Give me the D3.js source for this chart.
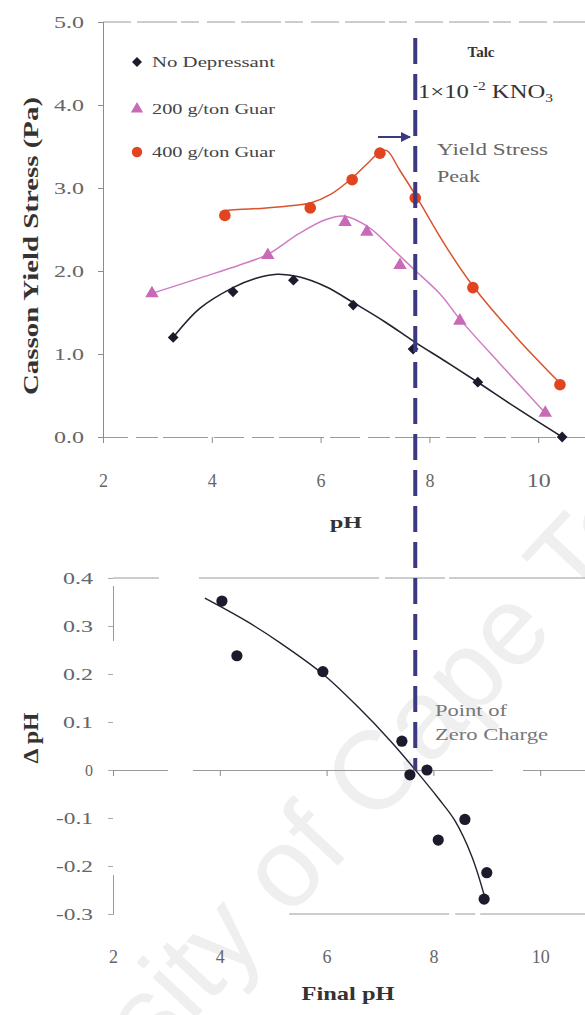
<!DOCTYPE html>
<html>
<head>
<meta charset="utf-8">
<script src="https://cdn.jsdelivr.net/npm/d3@7"></script>
<style>
  html, body { margin: 0; padding: 0; background: #fff; }
  svg { display: block; }
  text { font-family: "Liberation Serif", "Times New Roman", serif; }
</style>
</head>
<body>
<svg id="chart" width="585" height="1015"></svg>
<script>
// ---- Yield stress vs pH (talc, 1e-2 M KNO3) ----
const pHNoDep = [3.29, 4.39, 5.50, 6.60, 7.70, 8.89, 10.44];
const ysNoDep = [1.20, 1.75, 1.89, 1.59, 1.06, 0.66, 0.00];
const pH200 = [2.90, 5.03, 6.45, 6.85, 7.46, 8.56, 10.13];
const ys200 = [1.73, 2.19, 2.59, 2.47, 2.07, 1.40, 0.29];
const pH400 = [4.24, 5.81, 6.58, 7.09, 7.74, 8.80, 10.40];
const ys400 = [2.67, 2.76, 3.10, 3.42, 2.88, 1.80, 0.63];

// smoothed trend lines through each series
const fitNoDepPH = [3.29, 3.78, 4.39, 4.80, 5.20, 5.60, 6.10, 6.60, 7.20, 7.74, 8.30, 8.89, 9.60, 10.44];
const fitNoDepYS = [1.20, 1.55, 1.80, 1.91, 1.96, 1.93, 1.81, 1.62, 1.38, 1.14, 0.91, 0.66, 0.35, 0.00];
const fit200PH = [2.90, 3.80, 4.50, 5.03, 5.60, 6.10, 6.45, 6.90, 7.30, 7.70, 8.20, 8.56, 9.30, 10.13];
const fit200YS = [1.73, 1.92, 2.07, 2.20, 2.45, 2.62, 2.66, 2.52, 2.28, 2.03, 1.72, 1.42, 0.88, 0.29];
const fit400PH = [4.24, 5.00, 5.50, 5.81, 6.20, 6.58, 6.90, 7.10, 7.22, 7.45, 7.74, 8.30, 8.80, 9.60, 10.40];
const fit400YS = [2.73, 2.76, 2.79, 2.82, 2.93, 3.12, 3.32, 3.44, 3.45, 3.22, 2.92, 2.30, 1.82, 1.20, 0.65];

const seriesNames = ["No Depressant", "200 g/ton Guar", "400 g/ton Guar"];
const topYTicks = [0, 1, 2, 3, 4, 5];
const xTicks = [2, 4, 6, 8, 10];

// ---- Delta pH vs final pH (point of zero charge) ----
const finalPH = [4.04, 4.32, 5.93, 7.41, 7.56, 7.88, 8.09, 8.59, 9.00, 8.95];
const deltaPH = [0.352, 0.238, 0.205, 0.060, -0.010, 0.000, -0.146, -0.103, -0.214, -0.269];
const fitFinalPH = [3.72, 4.50, 5.13, 5.93, 6.60, 7.20, 7.70, 8.10, 8.40, 8.72, 8.97];
const fitDeltaPH = [0.358, 0.310, 0.265, 0.200, 0.130, 0.060, -0.005, -0.060, -0.105, -0.180, -0.268];
const botYTicks = [-0.3, -0.2, -0.1, 0, 0.1, 0.2, 0.3, 0.4];
const botYLabels = ["-0.3", "-0.2", "-0.1", "0", "0.1", "0.2", "0.3", "0.4"];

const pzcPH = 7.74;

const svg = d3.select("#chart");
const navy = "#3b3a80";
const axisGray = "#8c8c8c";
const labelGray = "#666";
const serif = "'Liberation Serif', 'Times New Roman', serif";

// faint watermark behind everything
svg.append("text")
  .attr("transform", "translate(343,860) rotate(-47)")
  .attr("text-anchor", "middle")
  .style("font-family", "'Liberation Sans', Arial, sans-serif")
  .style("font-size", "112px")
  .attr("fill", "#efefef")
  .text("University of Cape Town");

// width-fitted labels (the figure's type is set wide)
function fitText(sel, widths) {
  sel.each(function (d, i) {
    const w = typeof widths === "function" ? widths(d, i, this) : widths;
    if (w) d3.select(this).attr("textLength", w).attr("lengthAdjust", "spacingAndGlyphs");
  });
}

// ---------- upper panel ----------
const xTop = d3.scaleLinear().domain([2, 11]).range([103, 103 + 9 * 54.4]);
const yTop = d3.scaleLinear().domain([0, 5]).range([437, 22]);

const upper = svg.append("g");

// frame line at the top of the plot
upper.append("line")
  .attr("x1", xTop(2)).attr("x2", 585)
  .attr("y1", yTop(5)).attr("y2", yTop(5))
  .attr("stroke", "#9a9a9a").attr("stroke-width", 1)
  .attr("stroke-dasharray", "28,6,40,4,18,8");

const yAxisTop = upper.append("g")
  .attr("transform", `translate(${xTop(2)},0)`)
  .call(d3.axisLeft(yTop).tickValues(topYTicks).tickFormat(d3.format(".1f")).tickSize(5).tickPadding(14));
yAxisTop.select(".domain").attr("stroke", axisGray);
yAxisTop.selectAll(".tick line").attr("stroke", axisGray);
yAxisTop.selectAll(".tick text")
  .attr("fill", labelGray)
  .style("font-family", serif).style("font-size", "17px")
  .call(fitText, 30);

const xAxisTop = upper.append("g")
  .attr("transform", `translate(0,${yTop(0)})`)
  .call(d3.axisBottom(xTop).tickValues(xTicks).tickSize(6).tickPadding(31));
xAxisTop.select(".domain").attr("stroke", "#9a9a9a").attr("stroke-dasharray", "30,8,22,5,45,6");
xAxisTop.selectAll(".tick line").attr("stroke", axisGray);
xAxisTop.selectAll(".tick text").attr("fill", labelGray)
  .style("font-family", serif).style("font-size", "18px")
  .call(fitText, d => (d >= 10 ? 24 : 0));

// axis titles
upper.append("text")
  .attr("transform", "translate(38,246) rotate(-90)")
  .attr("text-anchor", "middle")
  .attr("textLength", 298)
  .attr("lengthAdjust", "spacingAndGlyphs")
  .style("font-size", "21px").style("font-weight", "bold")
  .attr("fill", "#333")
  .text("Casson Yield Stress (Pa)");

upper.append("text")
  .attr("x", 346).attr("y", 528)
  .attr("text-anchor", "middle")
  .attr("textLength", 32).attr("lengthAdjust", "spacingAndGlyphs")
  .style("font-size", "17px").style("font-weight", "bold")
  .attr("fill", "#333")
  .text("pH");

const lineTop = (xs, ys) => d3.line()
  .x((d, i) => xTop(xs[i]))
  .y((d, i) => yTop(ys[i]))
  .curve(d3.curveCatmullRom.alpha(0.5))(xs);

const colors = { nodep: "#1c1b2e", g200: "#c86ab8", g400: "#e0451f" };
const lineColors = { nodep: "#222230", g200: "#cf7cc4", g400: "#d8542e" };

upper.append("path").attr("d", lineTop(fit200PH, fit200YS))
  .attr("fill", "none").attr("stroke", lineColors.g200).attr("stroke-width", 1.5);
upper.append("path").attr("d", lineTop(fit400PH, fit400YS))
  .attr("fill", "none").attr("stroke", lineColors.g400).attr("stroke-width", 1.5);
upper.append("path").attr("d", lineTop(fitNoDepPH, fitNoDepYS))
  .attr("fill", "none").attr("stroke", lineColors.nodep).attr("stroke-width", 1.6);

const triangle = d3.symbol().type(d3.symbolTriangle).size(78)();

upper.append("g").selectAll("path").data(pHNoDep).join("path")
  .attr("d", d3.symbol().type(d3.symbolSquare).size(58)())
  .attr("transform", (d, i) => `translate(${xTop(d)},${yTop(ysNoDep[i])}) rotate(45)`)
  .attr("fill", colors.nodep);

upper.append("g").selectAll("path").data(pH200).join("path")
  .attr("d", triangle)
  .attr("transform", (d, i) => `translate(${xTop(d)},${yTop(ys200[i])})`)
  .attr("fill", colors.g200);

upper.append("g").selectAll("circle").data(pH400).join("circle")
  .attr("cx", d => xTop(d))
  .attr("cy", (d, i) => yTop(ys400[i]))
  .attr("r", 5.8)
  .attr("fill", colors.g400);

// legend
const legend = upper.append("g");
const legendY = [62, 109, 152];
legend.append("path").attr("d", d3.symbol().type(d3.symbolSquare).size(50)())
  .attr("transform", `translate(137,${legendY[0]}) rotate(45)`).attr("fill", colors.nodep);
legend.append("path").attr("d", d3.symbol().type(d3.symbolTriangle).size(65)())
  .attr("transform", `translate(137,${legendY[1]})`).attr("fill", colors.g200);
legend.append("circle").attr("cx", 137).attr("cy", legendY[2]).attr("r", 5.2).attr("fill", colors.g400);
legend.selectAll("text").data(seriesNames).join("text")
  .attr("x", 152).attr("y", (d, i) => legendY[i] + 5)
  .style("font-size", "14px").attr("fill", "#444")
  .text(d => d)
  .call(fitText, 123);

// annotations
upper.append("text").attr("x", 481).attr("y", 57).attr("text-anchor", "middle")
  .attr("textLength", 27).attr("lengthAdjust", "spacingAndGlyphs")
  .style("font-size", "14px").style("font-weight", "bold").attr("fill", "#333").text("Talc");

const kno3 = upper.append("text").attr("x", 418).attr("y", 98)
  .attr("textLength", 135).attr("lengthAdjust", "spacingAndGlyphs")
  .style("font-size", "19px").attr("fill", "#333");
kno3.append("tspan").text("1×10");
kno3.append("tspan").attr("dy", -8).style("font-size", "12px").text(" -2");
kno3.append("tspan").attr("dy", 8).text(" KNO");
kno3.append("tspan").attr("dy", 4).style("font-size", "12px").text("3");

upper.append("text").attr("x", 437).attr("y", 155)
  .attr("textLength", 111).attr("lengthAdjust", "spacingAndGlyphs")
  .style("font-size", "17px").attr("fill", "#666").text("Yield Stress");
upper.append("text").attr("x", 437).attr("y", 182)
  .attr("textLength", 43).attr("lengthAdjust", "spacingAndGlyphs")
  .style("font-size", "17px").attr("fill", "#666").text("Peak");

// arrow pointing to the peak line
svg.append("defs").append("marker")
  .attr("id", "arrowHead").attr("viewBox", "0 0 10 10")
  .attr("refX", 9).attr("refY", 5)
  .attr("markerWidth", 5).attr("markerHeight", 5)
  .attr("orient", "auto")
  .append("path").attr("d", "M0,0 L10,5 L0,10 Z").attr("fill", navy);
upper.append("line")
  .attr("x1", 378).attr("x2", 410).attr("y1", 137).attr("y2", 137)
  .attr("stroke", navy).attr("stroke-width", 2)
  .attr("marker-end", "url(#arrowHead)");

// ---------- lower panel ----------
const xBot = d3.scaleLinear().domain([2, 11]).range([113, 113 + 9 * 53.4]);
const yBot = d3.scaleLinear().domain([-0.3, 0.4]).range([914, 578]);

const lower = svg.append("g");

lower.append("line")
  .attr("x1", xBot(2)).attr("x2", 585)
  .attr("y1", yBot(0.4)).attr("y2", yBot(0.4))
  .attr("stroke", "#9a9a9a").attr("stroke-dasharray", "46,40,180,6,60,4,300");
lower.append("line")
  .attr("x1", xBot(5.3)).attr("x2", 585)
  .attr("y1", yBot(-0.3)).attr("y2", yBot(-0.3))
  .attr("stroke", "#9a9a9a").attr("stroke-dasharray", "160,6,20,5,300");

const yAxisBot = lower.append("g")
  .attr("transform", `translate(${xBot(2)},0)`)
  .call(d3.axisLeft(yBot).tickValues(botYTicks).tickFormat((d, i) => botYLabels[i]).tickSize(5).tickPadding(15));
yAxisBot.select(".domain").attr("stroke", "#9a9a9a").attr("stroke-dasharray", "45,234,55,20");
yAxisBot.selectAll(".tick line").attr("stroke", "#aaa");
yAxisBot.selectAll(".tick text").attr("fill", labelGray)
  .style("font-family", serif).style("font-size", "16px")
  .call(fitText, (d, i) => (botYLabels[i].length === 4 ? 37 : botYLabels[i].length === 3 ? 30 : 0));

// zero line with tick marks
const zeroAxis = lower.append("g")
  .attr("transform", `translate(0,${yBot(0)})`)
  .call(d3.axisBottom(xBot).tickValues(xTicks).tickSize(6).tickFormat(""));
zeroAxis.select(".domain").attr("stroke", "#9a9a9a").attr("stroke-dasharray", "60,25,300,30,80");
zeroAxis.selectAll(".tick line").attr("stroke", axisGray);

// tick labels below the panel
const labelAxis = lower.append("g")
  .attr("transform", `translate(0,${yBot(-0.3)})`)
  .call(d3.axisBottom(xBot).tickValues(xTicks).tickSize(0).tickPadding(36));
labelAxis.select(".domain").remove();
labelAxis.selectAll(".tick text").attr("fill", labelGray)
  .style("font-family", serif).style("font-size", "18px");

lower.append("text")
  .attr("transform", "translate(38,738) rotate(-90)")
  .attr("text-anchor", "middle")
  .attr("textLength", 51).attr("lengthAdjust", "spacingAndGlyphs")
  .style("font-size", "20px").style("font-weight", "bold").attr("fill", "#333")
  .text("Δ pH");

lower.append("text")
  .attr("x", 348).attr("y", 1000).attr("text-anchor", "middle")
  .attr("textLength", 93).attr("lengthAdjust", "spacingAndGlyphs")
  .style("font-size", "19px").style("font-weight", "bold").attr("fill", "#333")
  .text("Final pH");

lower.append("path")
  .attr("d", d3.line()
    .x((d, i) => xBot(fitFinalPH[i]))
    .y((d, i) => yBot(fitDeltaPH[i]))
    .curve(d3.curveCatmullRom.alpha(0.5))(fitFinalPH))
  .attr("fill", "none").attr("stroke", "#222230").attr("stroke-width", 1.4);

lower.append("g").selectAll("circle").data(finalPH).join("circle")
  .attr("cx", d => xBot(d))
  .attr("cy", (d, i) => yBot(deltaPH[i]))
  .attr("r", 5.6)
  .attr("fill", "#1c1b2e");

lower.append("text").attr("x", 435).attr("y", 716)
  .attr("textLength", 72).attr("lengthAdjust", "spacingAndGlyphs")
  .style("font-size", "16px").attr("fill", "#777").text("Point of");
lower.append("text").attr("x", 435).attr("y", 740)
  .attr("textLength", 113).attr("lengthAdjust", "spacingAndGlyphs")
  .style("font-size", "16px").attr("fill", "#777").text("Zero Charge");

// dashed line through the yield-stress peak down to the point of zero charge
svg.append("line")
  .attr("x1", xTop(pzcPH)).attr("x2", xTop(pzcPH))
  .attr("y1", 38).attr("y2", yBot(0))
  .attr("stroke", navy).attr("stroke-width", 4)
  .attr("stroke-dasharray", "26,10");
</script>
</body>
</html>
